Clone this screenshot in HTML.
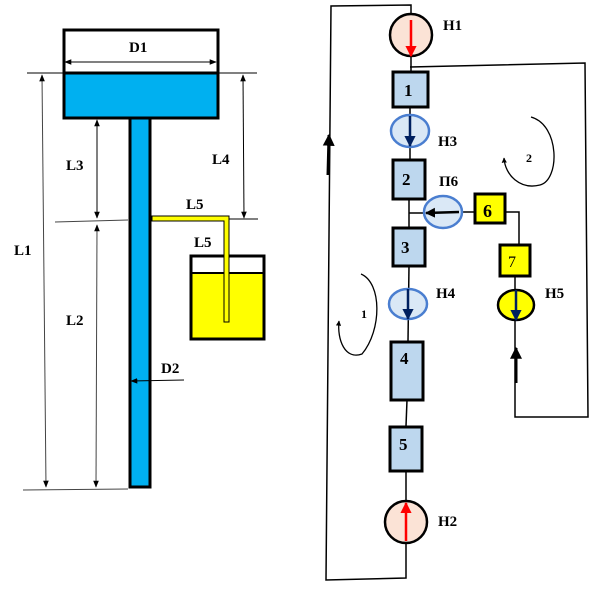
<!DOCTYPE html>
<html><head><meta charset="utf-8"><style>
body{margin:0;background:#fff}
svg{display:block}
text{font-family:"Liberation Serif",serif;font-weight:bold;font-size:15px;fill:#000}
</style></head><body>
<svg width="602" height="597" viewBox="0 0 602 597" xmlns="http://www.w3.org/2000/svg">
<defs>
<marker id="a" viewBox="0 0 10 10" refX="9" refY="5" markerWidth="7" markerHeight="7" orient="auto-start-reverse"><path d="M0,1 L10,5 L0,9z" fill="#000"/></marker>
<marker id="r" viewBox="0 0 10 10" refX="9" refY="5" markerWidth="4.5" markerHeight="4.5" orient="auto"><path d="M0,0 L10,5 L0,10z" fill="#f00"/></marker>
<marker id="n" viewBox="0 0 10 10" refX="9" refY="5" markerWidth="4.5" markerHeight="4.5" orient="auto"><path d="M0,0 L10,5 L0,10z" fill="#002060"/></marker>
<marker id="k" viewBox="0 0 10 10" refX="9" refY="5" markerWidth="4" markerHeight="4" orient="auto"><path d="M0,0 L10,5 L0,10z" fill="#000"/></marker>
</defs>
<rect x="64" y="30" width="154" height="88" fill="#fff" stroke="#000" stroke-width="3"/>
<rect x="65.5" y="73" width="151" height="43.5" fill="#00b0f0"/>
<line x1="64" y1="73" x2="218" y2="73" stroke="#000" stroke-width="3"/>
<line x1="27" y1="73" x2="257" y2="73" stroke="#000" stroke-width="1"/>
<text x="129" y="52">D1</text>
<line x1="65" y1="62" x2="216" y2="62" stroke="#000" stroke-width="1" marker-start="url(#a)" marker-end="url(#a)"/>
<rect x="130" y="118" width="20" height="369" fill="#00b0f0" stroke="#000" stroke-width="3"/>
<line x1="42" y1="75" x2="46" y2="487" stroke="#444" stroke-width="1" marker-start="url(#a)" marker-end="url(#a)"/>
<text x="14" y="255">L1</text>
<line x1="97" y1="120" x2="97" y2="218" stroke="#000" stroke-width="1" marker-start="url(#a)" marker-end="url(#a)"/>
<text x="66" y="170">L3</text>
<line x1="97" y1="225" x2="96" y2="487" stroke="#444" stroke-width="1" marker-start="url(#a)" marker-end="url(#a)"/>
<text x="66" y="325">L2</text>
<line x1="243" y1="75" x2="244" y2="218" stroke="#000" stroke-width="1" marker-start="url(#a)" marker-end="url(#a)"/>
<text x="212" y="164">L4</text>
<line x1="55" y1="222" x2="128" y2="220" stroke="#444" stroke-width="1"/>
<line x1="150" y1="219" x2="258" y2="219" stroke="#000" stroke-width="1"/>
<line x1="23" y1="490" x2="128" y2="489" stroke="#444" stroke-width="1"/>
<text x="186" y="209">L5</text>
<text x="194" y="247">L5</text>
<rect x="191" y="256" width="73" height="83" fill="#fff" stroke="#000" stroke-width="3"/>
<rect x="192.5" y="274" width="70" height="63.5" fill="#ff0"/>
<line x1="191" y1="273" x2="264" y2="273" stroke="#000" stroke-width="2"/>
<path d="M152,216 L229,216 L229,322 L224,322 L224,221 L152,221 Z" fill="#ff0" stroke="#000" stroke-width="1"/>
<text x="161" y="373">D2</text>
<line x1="131" y1="381" x2="184" y2="380" stroke="#000" stroke-width="1" marker-start="url(#a)"/>
<g fill="none" stroke="#000" stroke-width="1.5">
<polyline points="411,14 411,5 331,6 326,580 406,578 406,543"/>
<polyline points="410,67 585,63 588,417 515,417 515,320"/>
<line x1="411" y1="56" x2="411" y2="72"/>
<line x1="410" y1="107" x2="410" y2="160"/>
<line x1="409" y1="199" x2="409" y2="228"/>
<line x1="409" y1="213" x2="424" y2="213"/>
<line x1="462" y1="212" x2="475" y2="212"/>
<polyline points="505,212 519,212 519,245"/>
<line x1="515" y1="276" x2="515" y2="290"/>
<line x1="409" y1="266" x2="408" y2="341"/>
<line x1="407" y1="400" x2="406" y2="426"/>
<line x1="406" y1="471" x2="406" y2="501"/>
</g>
<line x1="328" y1="175" x2="329" y2="135" stroke="#000" stroke-width="3" marker-end="url(#k)"/>
<line x1="516" y1="383" x2="516" y2="348" stroke="#000" stroke-width="3" marker-end="url(#k)"/>
<circle cx="411" cy="35" r="21" fill="#fbe3d6" stroke="#000" stroke-width="2.5"/>
<line x1="411" y1="20" x2="411" y2="56" stroke="#f00" stroke-width="2.5" marker-end="url(#r)"/>
<text x="443" y="30">H1</text>
<rect x="393" y="72" width="35" height="35" fill="#bdd7ee" stroke="#000" stroke-width="3"/>
<text x="404" y="96" style="font-size:17px">1</text>
<ellipse cx="410" cy="131" rx="19" ry="16" fill="#dae8f6" stroke="#4a7ed0" stroke-width="2.5"/>
<line x1="410" y1="116" x2="410" y2="146" stroke="#002060" stroke-width="2.5" marker-end="url(#n)"/>
<text x="438" y="146">H3</text>
<rect x="393" y="160" width="32" height="39" fill="#bdd7ee" stroke="#000" stroke-width="3"/>
<text x="402" y="185" style="font-size:17px">2</text>
<text x="439" y="186">П6</text>
<ellipse cx="443" cy="212" rx="19" ry="16" fill="#dae8f6" stroke="#4a7ed0" stroke-width="2.5"/>
<line x1="459" y1="212" x2="426" y2="213" stroke="#000" stroke-width="2.5" marker-end="url(#k)"/>
<rect x="475" y="194" width="30" height="29" fill="#ff0" stroke="#000" stroke-width="3"/>
<text x="483" y="217" style="font-size:18px">6</text>
<rect x="500" y="245" width="30" height="31" fill="#ff0" stroke="#000" stroke-width="3"/>
<text x="508" y="267" style="font-size:16px;font-weight:normal">7</text>
<rect x="393" y="228" width="32" height="38" fill="#bdd7ee" stroke="#000" stroke-width="3"/>
<text x="401" y="253" style="font-size:17px">3</text>
<ellipse cx="408" cy="304" rx="19" ry="15" fill="#dae8f6" stroke="#4a7ed0" stroke-width="2.5"/>
<line x1="408" y1="289" x2="408" y2="319" stroke="#002060" stroke-width="2.5" marker-end="url(#n)"/>
<text x="436" y="298">H4</text>
<ellipse cx="516" cy="305" rx="18" ry="15" fill="#ff0" stroke="#000" stroke-width="2.5"/>
<line x1="516" y1="290" x2="516" y2="320" stroke="#002060" stroke-width="2.5" marker-end="url(#n)"/>
<text x="545" y="298">H5</text>
<rect x="391" y="342" width="32" height="58" fill="#bdd7ee" stroke="#000" stroke-width="3"/>
<text x="400" y="364" style="font-size:17px">4</text>
<rect x="390" y="427" width="32" height="44" fill="#bdd7ee" stroke="#000" stroke-width="3"/>
<text x="399" y="450" style="font-size:17px">5</text>
<circle cx="406" cy="522" r="21" fill="#fbe3d6" stroke="#000" stroke-width="2.5"/>
<line x1="406" y1="541" x2="406" y2="503" stroke="#f00" stroke-width="2.5" marker-end="url(#r)"/>
<text x="438" y="526">H2</text>
<path d="M531,117 C560,125 560,180 540,185 C520,190 505,175 504,158" fill="none" stroke="#000" stroke-width="1.3" marker-end="url(#k)"/>
<text x="526" y="162" style="font-size:12px">2</text>
<path d="M361,274 C382,283 382,330 362,354 C345,360 337,340 339,321" fill="none" stroke="#000" stroke-width="1.3" marker-end="url(#k)"/>
<text x="361" y="318" style="font-size:12px">1</text>
</svg>
</body></html>
